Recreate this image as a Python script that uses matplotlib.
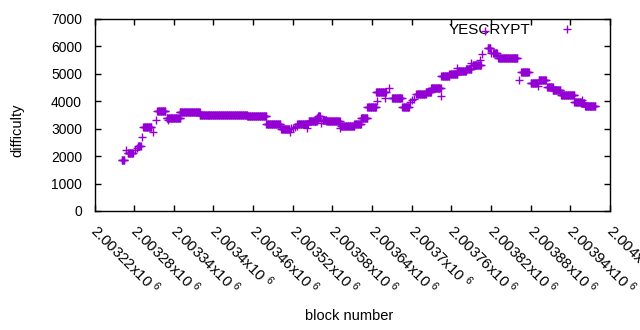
import numpy as np
import matplotlib
matplotlib.use('Agg')
import matplotlib.pyplot as plt
import matplotlib.transforms as mtransforms
from matplotlib.ticker import FuncFormatter, MultipleLocator

plt.rcParams['font.family'] = ['Liberation Sans', 'DejaVu Sans']
plt.rcParams['mathtext.fontset'] = 'custom'
plt.rcParams['mathtext.rm'] = 'Liberation Sans'
plt.rcParams['mathtext.it'] = 'Liberation Sans'

# difficulty held constant over runs of blocks: first block, last block, difficulty
seg_start = [2003261, 2003270, 2003286, 2003294, 2003315, 2003329, 2003349, 2003379,
             2003451, 2003480, 2003502, 2003527, 2003544, 2003553, 2003556, 2003558,
             2003565, 2003571, 2003593, 2003613, 2003623, 2003633, 2003646, 2003670,
             2003686, 2003707, 2003721, 2003729, 2003745, 2003757, 2003769, 2003782,
             2003792, 2003815, 2003823, 2003831, 2003866, 2003880, 2003892, 2003905,
             2003913, 2003926, 2003946, 2003956, 2003962]
seg_end = [2003265, 2003278, 2003290, 2003306, 2003327, 2003350, 2003379, 2003451,
           2003480, 2003501, 2003515, 2003543, 2003554, 2003556, 2003558, 2003561,
           2003571, 2003591, 2003613, 2003623, 2003633, 2003646, 2003661, 2003685,
           2003696, 2003721, 2003729, 2003744, 2003757, 2003769, 2003782, 2003790,
           2003805, 2003819, 2003829, 2003860, 2003877, 2003889, 2003903, 2003913,
           2003925, 2003946, 2003956, 2003961, 2003978]
seg_diff = [1850, 2130, 2370, 3050, 3640, 3380, 3600, 3490,
            3450, 3160, 2980, 3170, 3280, 3290, 3380, 3450,
            3320, 3280, 3100, 3170, 3380, 3780, 4330, 4110,
            3780, 4250, 4350, 4474, 4920, 4990, 5115, 5170,
            5320, 5930, 5750, 5570, 5060, 4660, 4780, 4530,
            4410, 4220, 3990, 3930, 3830]

# isolated blocks
single_block = [2003268, 2003281, 2003284, 2003292, 2003309, 2003313, 2003331, 2003516,
                2003518, 2003520, 2003523, 2003526, 2003541, 2003563, 2003592, 2003647,
                2003660, 2003666, 2003697, 2003700, 2003704, 2003744, 2003769, 2003789,
                2003803, 2003807, 2003811, 2003820, 2003862, 2003891, 2003957]
single_diff = [2220, 2220, 2310, 2690, 2870, 3310, 3320, 2890,
               3010, 3040, 3080, 3110, 3015, 3200, 3015, 4000,
               4110, 4474, 3980, 4030, 4070, 4190, 5200, 5407,
               5506, 5713, 6570, 5750, 4776, 4560, 4050]

xs = list(single_block)
ys = list(single_diff)
for a, b, d in zip(seg_start, seg_end, seg_diff):
    for blk in range(a, b + 1):
        xs.append(blk)
        ys.append(d)
order = np.argsort(xs)
xs = np.array(xs)[order]
ys = np.array(ys)[order]

fig = plt.figure(figsize=(6.4, 3.3), dpi=100)
ax = fig.add_axes([94.5/640, 1-211/330, (610-94.5)/640, 192/330])

ax.plot(xs, ys, linestyle='none', marker='+', ms=5.4, mew=1.0,
        color='#9400d3', label='YESCRYPT', zorder=3)

ax.set_xlim(2003220, 2004000)
ax.set_ylim(0, 7000)
ax.xaxis.set_major_locator(MultipleLocator(60))
ax.yaxis.set_major_locator(MultipleLocator(1000))
ax.xaxis.set_major_formatter(FuncFormatter(lambda v, p: '{:g}x10 $^{{6}}$'.format(v/1e6)))
ax.tick_params(direction='in', length=4, width=1, top=True, right=True,
               labelsize=10, colors='black')
ax.tick_params(axis='x', pad=7, labelsize=10.8)
ax.tick_params(axis='y', pad=9)
shift = mtransforms.ScaledTranslation(0.06, 0, fig.dpi_scale_trans)
for lab in ax.get_xticklabels():
    lab.set_rotation(-45)
    lab.set_ha('left')
    lab.set_va('top')
    lab.set_rotation_mode('anchor')
    lab.set_transform(lab.get_transform() + shift)
for sp in ax.spines.values():
    sp.set_linewidth(1)

fig.text(17/640, 1-130/330, 'difficulty', fontsize=10.5, rotation=90,
         ha='center', va='center')
fig.text(349/640, 1-316/330, 'block number', fontsize=10.5, ha='center', va='center')

leg = ax.legend(loc='upper right', bbox_to_anchor=(582/640, 1-23/330),
                bbox_transform=fig.transFigure, frameon=False, markerfirst=False,
                fontsize=11, borderpad=0, borderaxespad=0, handletextpad=1.4,
                handlelength=2)
leg.set_zorder(1)

fig.savefig('out.png', dpi=100)
